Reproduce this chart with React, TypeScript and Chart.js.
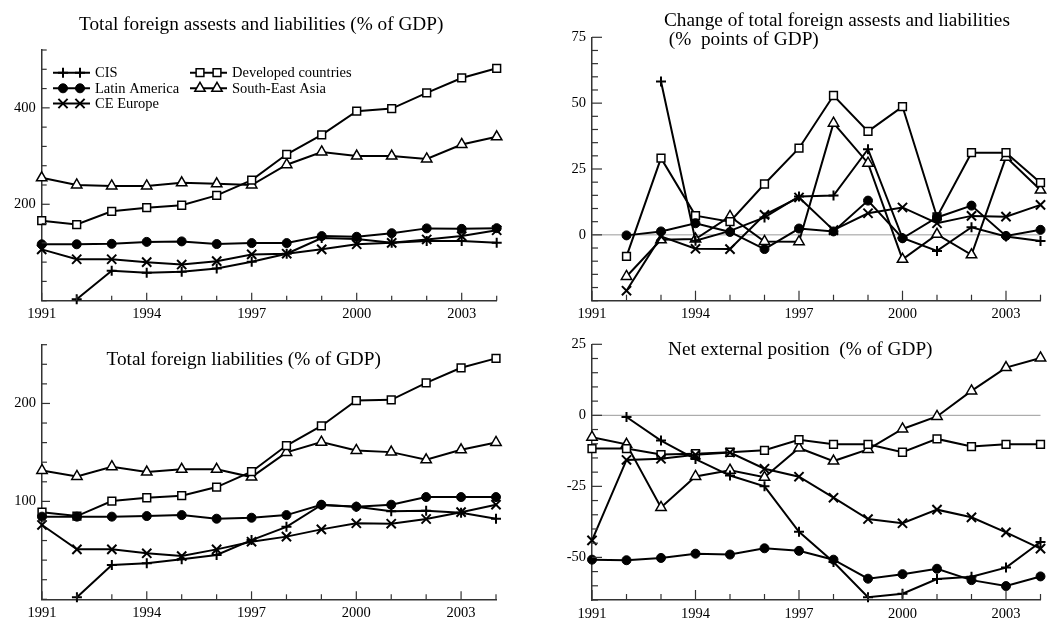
import React, { useEffect, useRef } from 'react';
import { Chart, registerables } from 'chart.js';

Chart.register(...registerables);

// ---------- data ----------
const years = [1991, 1992, 1993, 1994, 1995, 1996, 1997, 1998, 1999, 2000, 2001, 2002, 2003, 2004];
const xLabelYears = [1991, 1994, 1997, 2000, 2003];
const seriesNames = ['CIS', 'Latin America', 'CE Europe', 'Developed countries', 'South-East Asia'];

// Panel 1: Total foreign assets and liabilities (% of GDP)
const p1CIS = [null, 3, 62, 58, 60, 67, 81, 97.5, 130, 128, 120, 124, 124, 120];
const p1Latin = [117, 117, 118, 122, 123, 117.5, 119.5, 119.5, 134, 132.6, 140, 150, 149, 150.5];
const p1CEE = [106.5, 86, 86, 80, 75, 82, 96, 97.5, 106.5, 117, 120, 127, 134, 146];
const p1Dev = [166, 158, 185.5, 193, 198, 218.5, 250, 303.7, 344, 393, 398.5, 431, 462, 482];
const p1SEA = [255, 240, 238, 238, 244.6, 242.5, 240, 282, 308.5, 300, 300, 294, 324, 340];
const p1YLabels = [200, 400];

// Panel 2: Change of total foreign assets and liabilities (% points of GDP)
const p2CIS = [null, null, 58.2, -2.2, 1.5, 6.6, 14.6, 14.9, 32.5, -1.2, -6.1, 2.9, -0.6, -2.3];
const p2Latin = [null, -0.2, 1.3, 4.4, 1.1, -5.4, 2.4, 1.3, 13.0, -1.3, 6.6, 11.1, -0.4, 1.9];
const p2CEE = [null, -21.2, -0.6, -5.3, -5.4, 7.6, 14.2, 1.8, 8.2, 10.4, 4.4, 7.2, 6.9, 11.4];
const p2Dev = [null, -8.2, 29.1, 7.3, 5.0, 19.3, 32.9, 52.9, 39.3, 48.7, 6.8, 31.2, 31.2, 19.8];
const p2SEA = [null, -15.8, -1.9, -1.6, 7.0, -2.5, -2.6, 42.4, 27.2, -9.3, 0.2, -7.6, 29.5, 17.0];
const p2YLabels = [0, 25, 50, 75];

// Panel 3: Total foreign liabilities (% of GDP)
const p3CIS = [null, 2, 35, 36.7, 40.8, 45.2, 60.5, 74, 96.3, 94.6, 89.8, 90.5, 88.4, 82.3];
const p3Latin = [84.4, 84.4, 84.4, 85, 86, 82.3, 83.3, 86, 96.6, 94.6, 96.6, 104.4, 104.4, 104.4];
const p3CEE = [75.9, 51, 51, 47, 44.2, 51, 58.8, 64, 71.4, 77.6, 77.2, 82, 89, 96.6];
const p3Dev = [89, 85, 100.3, 103.7, 105.8, 114.6, 130.3, 157, 177, 203, 203.7, 221, 236.4, 246];
const p3SEA = [131.6, 125.5, 135.4, 130, 132.7, 132.7, 124.8, 150, 160.5, 152, 150.3, 142.5, 152.7, 160.2];
const p3YLabels = [100, 200];

// Panel 4: Net external position (% of GDP)
const p4CIS = [null, -0.6, -8.9, -15.4, -21.2, -25, -41, -51.6, -64, -62.8, -57.6, -56.8, -53.6, -44.6];
const p4Latin = [-50.8, -51, -50.2, -48.7, -49, -46.8, -47.7, -50.8, -57.5, -55.9, -54, -58, -60.1, -56.7];
const p4CEE = [-44, -15.7, -15.3, -13.9, -13.1, -18.8, -21.6, -29, -36.5, -38, -33.2, -35.9, -41.2, -46.9];
const p4Dev = [-11.7, -11.7, -13.8, -13.5, -13, -12.3, -8.6, -10.2, -10.2, -13, -8.3, -11, -10.2, -10.2];
const p4SEA = [-7.7, -10.2, -32.4, -21.5, -19.3, -21.8, -11.5, -16.1, -12, -4.8, -0.4, 8.6, 16.8, 20.2];
const p4YLabels = [-50, -25, 0, 25];

// ---------- styles ----------
const FONT = '"Liberation Serif", "Times New Roman", serif';
const AXIS = '#333';
const CW = 1049;
const CH = 640; // canvas taller than the viewport; the container clips it

type MStyle = { pointStyle: string; radius: number; bg: string; bw: number };
const markerStyles: MStyle[] = [
  { pointStyle: 'cross', radius: 5, bg: '#000', bw: 2 },
  { pointStyle: 'circle', radius: 4.5, bg: '#000', bw: 1 },
  { pointStyle: 'crossRot', radius: 6.5, bg: '#000', bw: 2 },
  { pointStyle: 'rect', radius: 5.5, bg: '#fff', bw: 1.5 },
  { pointStyle: 'triangle', radius: 6, bg: '#fff', bw: 1.5 },
];

function drawMarker(ctx: CanvasRenderingContext2D, s: MStyle, x: number, y: number) {
  const r = s.radius;
  ctx.save();
  ctx.lineWidth = s.bw;
  ctx.strokeStyle = '#000';
  ctx.fillStyle = s.bg;
  ctx.beginPath();
  switch (s.pointStyle) {
    case 'cross':
      ctx.moveTo(x, y - r); ctx.lineTo(x, y + r);
      ctx.moveTo(x - r, y); ctx.lineTo(x + r, y);
      ctx.stroke();
      break;
    case 'crossRot': {
      const d = r * Math.SQRT1_2;
      ctx.moveTo(x - d, y - d); ctx.lineTo(x + d, y + d);
      ctx.moveTo(x - d, y + d); ctx.lineTo(x + d, y - d);
      ctx.stroke();
      break;
    }
    case 'circle':
      ctx.arc(x, y, r, 0, Math.PI * 2);
      ctx.fill(); ctx.stroke();
      break;
    case 'rect': {
      const h = r * Math.SQRT1_2;
      ctx.rect(x - h, y - h, 2 * h, 2 * h);
      ctx.fill(); ctx.stroke();
      break;
    }
    case 'triangle': {
      let a = 0;
      ctx.moveTo(x + Math.sin(a) * r, y - Math.cos(a) * r);
      a += (2 * Math.PI) / 3;
      ctx.lineTo(x + Math.sin(a) * r, y - Math.cos(a) * r);
      a += (2 * Math.PI) / 3;
      ctx.lineTo(x + Math.sin(a) * r, y - Math.cos(a) * r);
      ctx.closePath();
      ctx.fill(); ctx.stroke();
      break;
    }
  }
  ctx.restore();
}

// ---------- plugins ----------
const innerTicks = {
  id: 'innerTicks',
  afterDraw(chart: any, _args: any, opts: any) {
    const { ctx, chartArea } = chart;
    const { left, bottom } = chartArea;
    ctx.save();
    ctx.strokeStyle = AXIS;
    ctx.lineWidth = 1.2;
    const xs = chart.scales.x;
    xs.ticks.forEach((t: any) => {
      const px = xs.getPixelForValue(t.value);
      const len = t.label !== '' ? opts.major : opts.minor;
      ctx.beginPath(); ctx.moveTo(px, bottom); ctx.lineTo(px, bottom - len); ctx.stroke();
    });
    const ys = chart.scales.y;
    ys.ticks.forEach((t: any) => {
      const py = ys.getPixelForValue(t.value);
      const len = t.label !== '' ? opts.major : opts.minor;
      ctx.beginPath(); ctx.moveTo(left, py); ctx.lineTo(left + len, py); ctx.stroke();
    });
    ctx.restore();
  },
};

const zeroLine = {
  id: 'zeroLine',
  beforeDatasetsDraw(chart: any, _args: any, opts: any) {
    if (!opts.show) return;
    const { ctx, chartArea } = chart;
    const py = chart.scales.y.getPixelForValue(0);
    ctx.save();
    ctx.strokeStyle = '#9a9a9a';
    ctx.lineWidth = 1;
    ctx.beginPath(); ctx.moveTo(chartArea.left, py); ctx.lineTo(chartArea.right, py); ctx.stroke();
    ctx.restore();
  },
};

const panelTitle = {
  id: 'panelTitle',
  afterDraw(chart: any, _args: any, opts: any) {
    const { ctx } = chart;
    ctx.save();
    ctx.fillStyle = '#000';
    ctx.font = `${opts.size}px ${FONT}`;
    ctx.textAlign = 'left';
    ctx.textBaseline = 'alphabetic';
    (opts.lines || []).forEach((l: any) => ctx.fillText(l.text, l.x, l.y));
    ctx.restore();
  },
};

const boxLegend = {
  id: 'boxLegend',
  afterDraw(chart: any, _args: any, opts: any) {
    if (!opts.show) return;
    const { ctx } = chart;
    ctx.save();
    ctx.font = `${opts.size}px ${FONT}`;
    ctx.textBaseline = 'middle';
    ctx.textAlign = 'left';
    opts.items.forEach((it: any) => {
      const s = markerStyles[it.index];
      ctx.strokeStyle = '#000';
      ctx.lineWidth = 2;
      ctx.beginPath(); ctx.moveTo(it.x, it.y); ctx.lineTo(it.x + 37, it.y); ctx.stroke();
      drawMarker(ctx, s, it.x + 10, it.y);
      drawMarker(ctx, s, it.x + 27, it.y);
      ctx.fillStyle = '#000';
      ctx.fillText(seriesNames[it.index], it.x + 42, it.y + 0.5);
    });
    ctx.restore();
  },
};

Chart.register(innerTicks, zeroLine, panelTitle, boxLegend);

// ---------- panels ----------
type Panel = {
  series: (number | null)[][];
  yMin: number; yMax: number; yStep: number; yLabels: number[];
  pad: { left: number; right: number; top: number; bottom: number };
  title: { text: string; x: number; y: number }[];
  zero: boolean;
  legend: boolean;
  tick: { major: number; minor: number };
};

const XH = 24; // x-axis box height (holds the year labels)

const panels: Panel[] = [
  {
    series: [p1CIS, p1Latin, p1CEE, p1Dev, p1SEA],
    yMin: 0, yMax: 520, yStep: 40, yLabels: p1YLabels,
    pad: { left: 1.7, right: CW - 496.7, top: 50, bottom: CH - 300.7 - XH },
    title: [{ text: 'Total foreign assests and liabilities (% of GDP)', x: 79, y: 29.5 }],
    zero: false, legend: true, tick: { major: 8, minor: 5 },
  },
  {
    series: [p2CIS, p2Latin, p2CEE, p2Dev, p2SEA],
    yMin: -25, yMax: 75, yStep: 5, yLabels: p2YLabels,
    pad: { left: 552, right: 5, top: 37.3, bottom: CH - 300.7 - XH },
    title: [
      { text: 'Change of total foreign assests and liabilities', x: 664, y: 26 },
      { text: ' (%  points of GDP)', x: 664, y: 45 },
    ],
    zero: true, legend: false, tick: { major: 10, minor: 6 },
  },
  {
    series: [p3CIS, p3Latin, p3CEE, p3Dev, p3SEA],
    yMin: 0, yMax: 260, yStep: 20, yLabels: p3YLabels,
    pad: { left: 2, right: CW - 496, top: 344.7, bottom: CH - 599.3 - XH },
    title: [{ text: 'Total foreign liabilities (% of GDP)', x: 106.5, y: 365 }],
    zero: false, legend: false, tick: { major: 8, minor: 5 },
  },
  {
    series: [p4CIS, p4Latin, p4CEE, p4Dev, p4SEA],
    yMin: -65, yMax: 25, yStep: 5, yLabels: p4YLabels,
    pad: { left: 552, right: 5, top: 344.3, bottom: CH - 600 - XH },
    title: [{ text: 'Net external position  (% of GDP)', x: 668, y: 355 }],
    zero: true, legend: false, tick: { major: 10, minor: 6 },
  },
];

const legendItems = [
  { index: 0, x: 53, y: 72.7 },
  { index: 1, x: 53, y: 88.3 },
  { index: 2, x: 53, y: 103.5 },
  { index: 3, x: 190, y: 72.7 },
  { index: 4, x: 190, y: 88.3 },
];

function buildConfig(p: Panel): any {
  const tickFont = { family: FONT, size: 14.5 };
  return {
    type: 'line',
    data: {
      datasets: p.series.map((vals, i) => {
        const s = markerStyles[i];
        return {
          label: seriesNames[i],
          data: years.map((yr, k) => ({ x: yr, y: vals[k] })),
          borderColor: '#000',
          borderWidth: 2,
          tension: 0,
          pointStyle: s.pointStyle,
          pointRadius: s.radius,
          pointBackgroundColor: s.bg,
          pointBorderColor: '#000',
          pointBorderWidth: s.bw,
          clip: false,
        };
      }),
    },
    options: {
      animation: false,
      responsive: false,
      devicePixelRatio: 1,
      layout: { padding: p.pad },
      scales: {
        x: {
          type: 'linear',
          min: 1991,
          max: 2004,
          afterFit: (s: any) => { s.height = XH; },
          ticks: {
            stepSize: 1,
            autoSkip: false,
            maxRotation: 0,
            padding: 5,
            color: '#000',
            font: tickFont,
            callback: (v: number) => (xLabelYears.includes(v) ? String(v) : ''),
          },
          grid: { display: false, drawTicks: false },
          border: { display: true, color: AXIS, width: 1.5 },
        },
        y: {
          type: 'linear',
          min: p.yMin,
          max: p.yMax,
          afterFit: (s: any) => { s.width = 40; },
          ticks: {
            stepSize: p.yStep,
            autoSkip: false,
            padding: 6,
            color: '#000',
            font: tickFont,
            callback: (v: number) => (p.yLabels.includes(v) ? String(v) : ''),
          },
          grid: { display: false, drawTicks: false },
          border: { display: true, color: AXIS, width: 1.5 },
        },
      },
      plugins: {
        legend: { display: false },
        tooltip: { enabled: false },
        title: { display: false },
        innerTicks: p.tick,
        zeroLine: { show: p.zero },
        panelTitle: { size: 19.3, lines: p.title },
        boxLegend: { show: p.legend, size: 14.5, items: legendItems },
      },
    },
  };
}

function PanelCanvas({ panel }: { panel: Panel }) {
  const ref = useRef<HTMLCanvasElement>(null);
  useEffect(() => {
    const chart = new Chart(ref.current as HTMLCanvasElement, buildConfig(panel));
    return () => chart.destroy();
  }, [panel]);
  return (
    <canvas
      ref={ref}
      width={CW}
      height={CH}
      style={{ position: 'absolute', left: 0, top: 0, width: CW, height: CH }}
    />
  );
}

export default function App() {
  return (
    <div
      style={{
        position: 'absolute', left: 0, top: 0, width: 1049, height: 618,
        overflow: 'hidden', background: '#fff',
      }}
    >
      {panels.map((p, i) => (
        <PanelCanvas key={i} panel={p} />
      ))}
    </div>
  );
}
